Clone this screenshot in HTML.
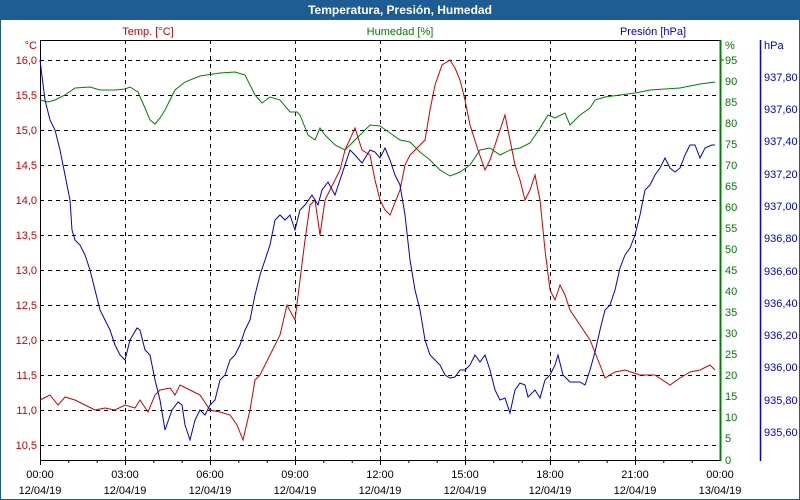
<!DOCTYPE html>
<html><head><meta charset="utf-8"><style>
body{margin:0;background:#fff}
svg{display:block;font-family:"Liberation Sans",sans-serif;font-size:11px}
</style></head><body>
<svg width="800" height="500" xmlns="http://www.w3.org/2000/svg">
<rect x="0" y="0" width="800" height="500" fill="#fff"/>
<rect x="0.5" y="0.5" width="799" height="499" fill="none" stroke="#1e5c94" stroke-width="1"/>
<rect x="0" y="0" width="800" height="20" fill="#1e5c94"/>
<text x="400" y="14" fill="#fff" font-weight="bold" font-size="12" text-anchor="middle">Temperatura, Presión, Humedad</text>
<g stroke="#000" stroke-dasharray="4,4" stroke-width="1">
<line x1="40" y1="60.5" x2="720" y2="60.5"/><line x1="40" y1="95.5" x2="720" y2="95.5"/><line x1="40" y1="130.5" x2="720" y2="130.5"/><line x1="40" y1="165.5" x2="720" y2="165.5"/><line x1="40" y1="200.5" x2="720" y2="200.5"/><line x1="40" y1="235.5" x2="720" y2="235.5"/><line x1="40" y1="270.5" x2="720" y2="270.5"/><line x1="40" y1="305.5" x2="720" y2="305.5"/><line x1="40" y1="340.5" x2="720" y2="340.5"/><line x1="40" y1="375.5" x2="720" y2="375.5"/><line x1="40" y1="410.5" x2="720" y2="410.5"/><line x1="40" y1="445.5" x2="720" y2="445.5"/>
<line x1="125.5" y1="40" x2="125.5" y2="460"/><line x1="210.5" y1="40" x2="210.5" y2="460"/><line x1="295.5" y1="40" x2="295.5" y2="460"/><line x1="380.5" y1="40" x2="380.5" y2="460"/><line x1="465.5" y1="40" x2="465.5" y2="460"/><line x1="550.5" y1="40" x2="550.5" y2="460"/><line x1="635.5" y1="40" x2="635.5" y2="460"/>
</g>
<rect x="40.5" y="40.5" width="680" height="420" fill="none" stroke="#000"/>
<line x1="720.5" y1="40" x2="720.5" y2="461" stroke="#008000" stroke-width="2"/>
<line x1="760.5" y1="40" x2="760.5" y2="461" stroke="#0000e0" stroke-width="1.5"/>
<g stroke="#000">
<line x1="40.5" y1="460" x2="40.5" y2="465"/><line x1="68.8" y1="460" x2="68.8" y2="463"/><line x1="97.2" y1="460" x2="97.2" y2="463"/><line x1="125.5" y1="460" x2="125.5" y2="465"/><line x1="153.8" y1="460" x2="153.8" y2="463"/><line x1="182.2" y1="460" x2="182.2" y2="463"/><line x1="210.5" y1="460" x2="210.5" y2="465"/><line x1="238.8" y1="460" x2="238.8" y2="463"/><line x1="267.2" y1="460" x2="267.2" y2="463"/><line x1="295.5" y1="460" x2="295.5" y2="465"/><line x1="323.8" y1="460" x2="323.8" y2="463"/><line x1="352.2" y1="460" x2="352.2" y2="463"/><line x1="380.5" y1="460" x2="380.5" y2="465"/><line x1="408.8" y1="460" x2="408.8" y2="463"/><line x1="437.2" y1="460" x2="437.2" y2="463"/><line x1="465.5" y1="460" x2="465.5" y2="465"/><line x1="493.8" y1="460" x2="493.8" y2="463"/><line x1="522.2" y1="460" x2="522.2" y2="463"/><line x1="550.5" y1="460" x2="550.5" y2="465"/><line x1="578.8" y1="460" x2="578.8" y2="463"/><line x1="607.2" y1="460" x2="607.2" y2="463"/><line x1="635.5" y1="460" x2="635.5" y2="465"/><line x1="663.8" y1="460" x2="663.8" y2="463"/><line x1="692.2" y1="460" x2="692.2" y2="463"/>
</g>
<g fill="#000" text-anchor="middle">
<text x="40" y="478">00:00</text><text x="40" y="494">12/04/19</text>
<text x="125" y="478">03:00</text><text x="125" y="494">12/04/19</text>
<text x="210" y="478">06:00</text><text x="210" y="494">12/04/19</text>
<text x="295" y="478">09:00</text><text x="295" y="494">12/04/19</text>
<text x="380" y="478">12:00</text><text x="380" y="494">12/04/19</text>
<text x="465" y="478">15:00</text><text x="465" y="494">12/04/19</text>
<text x="550" y="478">18:00</text><text x="550" y="494">12/04/19</text>
<text x="635" y="478">21:00</text><text x="635" y="494">12/04/19</text>
<text x="720" y="478">00:00</text><text x="720" y="494">13/04/19</text>
</g>
<g fill="#cc0000" text-anchor="end">
<text x="37" y="49">°C</text>
<text x="37" y="64">16,0</text><text x="37" y="99">15,5</text><text x="37" y="134">15,0</text><text x="37" y="169">14,5</text><text x="37" y="204">14,0</text><text x="37" y="239">13,5</text><text x="37" y="274">13,0</text><text x="37" y="309">12,5</text><text x="37" y="344">12,0</text><text x="37" y="379">11,5</text><text x="37" y="414">11,0</text><text x="37" y="449">10,5</text>
</g>
<text x="148" y="35" fill="#cc0000" text-anchor="middle">Temp. [°C]</text>
<text x="400" y="35" fill="#008000" text-anchor="middle">Humedad [%]</text>
<text x="653" y="35" fill="#0000cc" text-anchor="middle">Presión [hPa]</text>
<g fill="#008000">
<text x="725" y="49">%</text>
<text x="725" y="64">95</text><text x="725" y="85">90</text><text x="725" y="106">85</text><text x="725" y="127">80</text><text x="725" y="148">75</text><text x="725" y="169">70</text><text x="725" y="190">65</text><text x="725" y="211">60</text><text x="725" y="232">55</text><text x="725" y="253">50</text><text x="725" y="274">45</text><text x="725" y="295">40</text><text x="725" y="316">35</text><text x="725" y="337">30</text><text x="725" y="358">25</text><text x="725" y="379">20</text><text x="725" y="400">15</text><text x="725" y="421">10</text><text x="725" y="442">5</text><text x="725" y="464">0</text>
</g>
<g stroke="#008000"><line x1="720" y1="60" x2="724" y2="60"/></g>
<g fill="#0000cc">
<text x="764" y="49">hPa</text>
<text x="764" y="81">937,80</text><text x="764" y="113">937,60</text><text x="764" y="145">937,40</text><text x="764" y="178">937,20</text><text x="764" y="210">937,00</text><text x="764" y="242">936,80</text><text x="764" y="275">936,60</text><text x="764" y="307">936,40</text><text x="764" y="339">936,20</text><text x="764" y="371">936,00</text><text x="764" y="404">935,80</text><text x="764" y="436">935,60</text>
</g>
<polyline fill="none" stroke="#008000" stroke-width="1" points="40,100 48,102 55,100 65,95 75,88 90,87 100,90 115,90 125,89 130,87 138,92 145,108 150,120 155,124 160,118 165,110 175,90 185,82 200,76 220,73 235,72 245,75 255,95 262,103 270,97 280,100 290,112 297,112 300,115 308,135 315,140 320,128 325,135 335,145 345,150 355,140 370,125 380,126 390,133 400,140 410,142 420,152 430,160 440,170 450,176 460,172 470,165 480,150 490,148 500,155 510,150 520,148 530,143 540,128 548,115 555,118 565,113 570,125 580,115 590,108 595,100 605,97 620,95 635,93 650,90 665,89 680,88 700,84 715,82"/>
<polyline fill="none" stroke="#cc0000" stroke-width="1" points="40,400 50,395 58,405 65,397 75,400 85,405 95,410 105,408 115,410 125,405 135,408 140,400 148,412 155,395 160,390 170,388 175,395 180,385 190,390 200,395 210,410 220,412 230,415 237,425 243,440 250,410 255,380 260,375 270,355 280,335 287,305 295,320 300,280 305,240 310,205 315,200 320,235 325,200 330,190 340,170 345,150 355,128 362,150 370,155 375,180 380,200 385,210 390,215 400,190 405,165 410,155 415,150 420,145 425,140 430,110 435,85 442,65 450,60 455,68 460,80 465,100 470,125 478,150 485,170 490,160 500,130 505,115 510,140 515,165 520,180 525,200 530,190 535,175 540,200 545,250 550,290 555,300 560,285 565,295 570,310 580,325 590,340 600,365 605,378 615,372 625,370 640,375 655,375 670,385 680,378 690,372 700,370 710,365 715,370"/>
<polyline fill="none" stroke="#0000cc" stroke-width="1" points="40,60 45,100 50,120 55,130 60,150 65,175 70,200 72,230 75,240 80,245 85,255 90,270 95,290 100,310 105,320 110,330 115,345 120,355 125,360 130,340 137,328 140,330 145,350 150,355 155,380 160,400 165,430 172,410 178,402 182,405 185,425 190,440 195,420 200,410 205,415 210,405 215,400 220,380 225,375 230,360 235,355 240,345 245,330 250,320 255,295 260,275 265,260 270,245 275,220 280,215 285,220 290,215 295,230 300,210 305,205 312,195 318,205 322,190 328,182 335,195 340,180 345,165 350,150 355,155 362,163 370,150 375,152 380,158 385,148 390,160 395,175 400,185 405,215 410,260 415,290 420,310 425,340 430,355 435,360 440,365 445,375 450,378 455,377 460,370 465,370 470,365 475,355 480,362 485,355 490,370 495,390 500,400 505,398 510,413 515,390 520,383 525,385 528,397 535,390 540,398 545,380 550,375 555,365 558,355 563,375 570,382 580,382 585,385 590,370 595,352 600,330 605,310 610,305 615,290 620,268 625,255 630,248 635,235 640,215 645,190 650,185 655,175 660,168 665,158 670,168 675,172 680,168 685,155 690,145 695,145 700,158 705,148 712,145 715,145"/>
</svg>
</body></html>
